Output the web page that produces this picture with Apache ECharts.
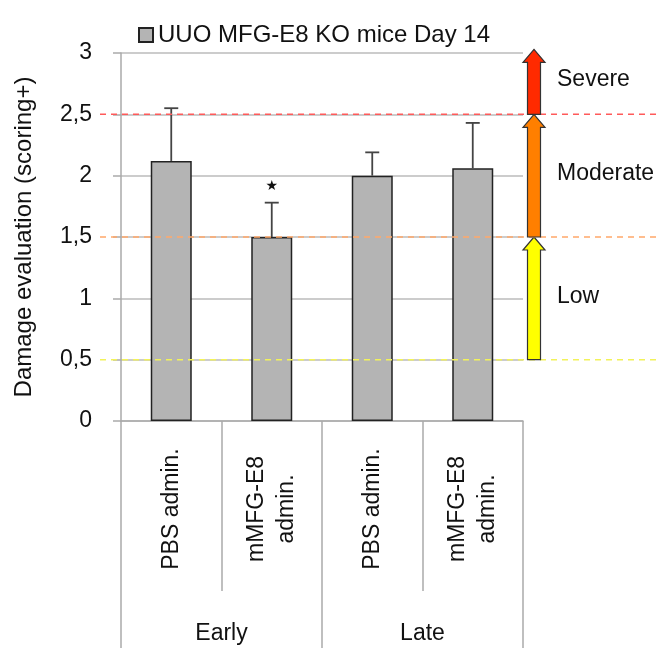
<!DOCTYPE html>
<html style="height: 100%">
   <head>
       <meta charset="utf-8">
   </head>
   <body style="height: 100%; margin: 0">
       <div id="container" style="height: 648px; width: 661px"></div>
       <script type="text/javascript" src="https://cdn.jsdelivr.net/npm/echarts/dist/echarts.min.js"></script>
       <script type="text/javascript">
var seriesName = 'UUO MFG-E8 KO mice Day 14';
var treatments = ['PBS admin.', 'mMFG-E8\nadmin.', 'PBS admin.', 'mMFG-E8\nadmin.'];
var phases = ['Early', 'Late'];
var means = [2.12, 1.50, 2.00, 2.06];
var errors = [0.43, 0.28, 0.19, 0.37];
var marks = ['', '\u2605', '', ''];

// damage bands: from, to, arrow colour, dashed line colour
var bandNames = ['Low', 'Moderate', 'Severe'];
var bandFrom = [0.5, 1.5, 2.5];
var bandTo = [1.5, 2.5, 3.03];
var bandColors = ['#ffff00', '#ff7f00', '#ff2a00'];
var lineColors = ['#f2f25a', '#ffa86a', '#ff5a5a'];

var font = 'Liberation Sans, Arial, Helvetica, sans-serif';

var dom = document.getElementById("container");
var myChart = echarts.init(dom);

var errData = means.map(function (m, i) { return [i, m, errors[i]]; });
var bandData = bandNames.map(function (n, i) { return [0, bandFrom[i], bandTo[i]]; });

option = {
    animation: false,
    textStyle: { fontFamily: font },
    legend: {
        data: [seriesName],
        left: 133,
        top: 18,
        icon: 'rect',
        itemWidth: 14,
        itemHeight: 14,
        textStyle: { fontSize: 24, color: '#111', fontFamily: font }
    },
    grid: { left: 121, right: 138, top: 53, bottom: 227, outerBoundsMode: 'none', containLabel: false },
    xAxis: [
        {
            type: 'category',
            data: treatments,
            axisLine: { lineStyle: { color: '#aaa', width: 1.5 } },
            axisTick: { show: true, interval: 0, length: 170, lineStyle: { color: '#aaa', width: 1.5 } },
            axisLabel: {
                rotate: 90, interval: 0, margin: 88, align: 'center', verticalAlign: 'middle',
                fontSize: 23, color: '#111', lineHeight: 30, fontFamily: font
            }
        },
        {
            type: 'category',
            data: phases,
            position: 'bottom',
            axisLine: { show: false },
            axisTick: { show: true, interval: 0, length: 227, lineStyle: { color: '#aaa', width: 1.5 } },
            axisLabel: { margin: 201, fontSize: 23, color: '#111', fontFamily: font }
        }
    ],
    yAxis: {
        type: 'value',
        min: 0,
        max: 3,
        interval: 0.5,
        name: 'Damage evaluation (scoring+)',
        nameLocation: 'middle',
        nameGap: 85,
        nameTextStyle: { fontSize: 24, color: '#111', fontFamily: font },
        axisLine: { show: true, lineStyle: { color: '#aaa', width: 1.5 } },
        axisTick: { show: true, length: 8, lineStyle: { color: '#aaa', width: 1.5 } },
        splitLine: { lineStyle: { color: '#bbb', width: 1.5 } },
        axisLabel: {
            margin: 29, fontSize: 23, color: '#111', fontFamily: font,
            formatter: function (v) { return String(v).replace('.', ','); }
        }
    },
    series: [
        {
            name: seriesName,
            type: 'bar',
            data: means,
            barWidth: 41,
            itemStyle: { color: '#b4b4b4', borderColor: '#222', borderWidth: 1.5 }
        },
        {
            type: 'custom',
            data: errData,
            z: 5,
            renderItem: function (params, api) {
                var base = api.coord([api.value(0), api.value(1)]);
                var top = api.coord([api.value(0), api.value(1) + api.value(2)]);
                var st = { stroke: '#444', lineWidth: 1.8 };
                var children = [
                    { type: 'line', shape: { x1: base[0], y1: base[1], x2: top[0], y2: top[1] }, style: st },
                    { type: 'line', shape: { x1: top[0] - 7, y1: top[1], x2: top[0] + 7, y2: top[1] }, style: st }
                ];
                var mk = marks[params.dataIndex];
                if (mk) {
                    children.push({
                        type: 'text',
                        style: { text: mk, x: top[0], y: top[1] - 16, fill: '#111', font: '14px DejaVu Sans', align: 'center', verticalAlign: 'middle' }
                    });
                }
                return { type: 'group', children: children };
            }
        },
        {
            type: 'custom',
            data: bandData,
            z: 6,
            clip: false,
            renderItem: function (params, api) {
                var cs = params.coordSys;
                var i = params.dataIndex;
                var yFrom = api.coord([0, api.value(1)])[1];
                var yTo = api.coord([0, api.value(2)])[1];
                var cx = cs.x + cs.width + 11;
                var hw = 11, sw = 6.5, hh = 13;
                return {
                    type: 'group',
                    children: [
                        {
                            type: 'line',
                            shape: { x1: cs.x - 21, y1: yFrom, x2: api.getWidth(), y2: yFrom },
                            style: { stroke: lineColors[i], lineWidth: 1.5, lineDash: [6, 5] }
                        },
                        {
                            type: 'polygon',
                            shape: { points: [
                                [cx, yTo], [cx + hw, yTo + hh], [cx + sw, yTo + hh], [cx + sw, yFrom],
                                [cx - sw, yFrom], [cx - sw, yTo + hh], [cx - hw, yTo + hh]
                            ] },
                            style: { fill: bandColors[i], stroke: '#333', lineWidth: 1.2 }
                        },
                        {
                            type: 'text',
                            style: {
                                text: bandNames[i], x: cs.x + cs.width + 34, y: (yFrom + yTo) / 2 - 2,
                                fill: '#111', font: '23px ' + font, verticalAlign: 'middle'
                            }
                        }
                    ]
                };
            }
        }
    ]
};

if (option && typeof option === "object") {
    myChart.setOption(option, true);
}
       </script>
   </body>
</html>
